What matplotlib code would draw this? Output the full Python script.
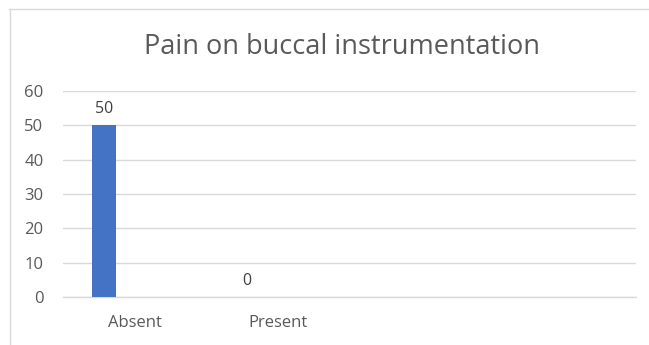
import matplotlib.pyplot as plt
from matplotlib.lines import Line2D

# 데이터
categories = ['Absent', 'Present']
counts = [50, 0]
title = 'Pain on buccal instrumentation'

plt.rcParams['font.family'] = ['Open Sans', 'DejaVu Sans']

fig = plt.figure(figsize=(6.49, 3.45), dpi=100)
ax = fig.add_axes([63 / 649, 1 - 297 / 345, 573 / 649, 206 / 345])

# 차트 테두리 (위, 왼쪽)
fig.add_artist(Line2D([9 / 649, 1], [1 - 9 / 345, 1 - 9 / 345], color='#d9d9d9', lw=1))
fig.add_artist(Line2D([10 / 649, 10 / 649], [0, 1 - 9 / 345], color='#d9d9d9', lw=1))

offset = -0.214
xs = [i + offset for i in range(len(categories))]
bars = ax.bar(xs, counts, width=0.168, color='#4472c4', zorder=3)
for x, v in zip(xs, counts):
    ax.text(x, v + 2.3, str(v), ha='center', va='bottom', fontsize=11.5, color='#404040')

ax.set_xlim(-0.5, 3.5)
ax.set_ylim(0, 60)
ax.set_yticks(range(0, 61, 10))
ax.set_xticks(range(len(categories)))
ax.set_xticklabels(categories)
ax.grid(axis='y', color='#d9d9d9', lw=1, zorder=0)
ax.axhline(0, color='#d9d9d9', lw=1, zorder=1, clip_on=False)
for s in ax.spines.values():
    s.set_visible(False)
ax.tick_params(length=0, labelsize=12, labelcolor='#595959')
ax.tick_params(axis='x', pad=13)
ax.tick_params(axis='y', pad=14)

fig.text(342 / 649, 1 - 47 / 345, title, ha='center', va='center', fontsize=19.5, color='#595959')

fig.savefig('out.png')
